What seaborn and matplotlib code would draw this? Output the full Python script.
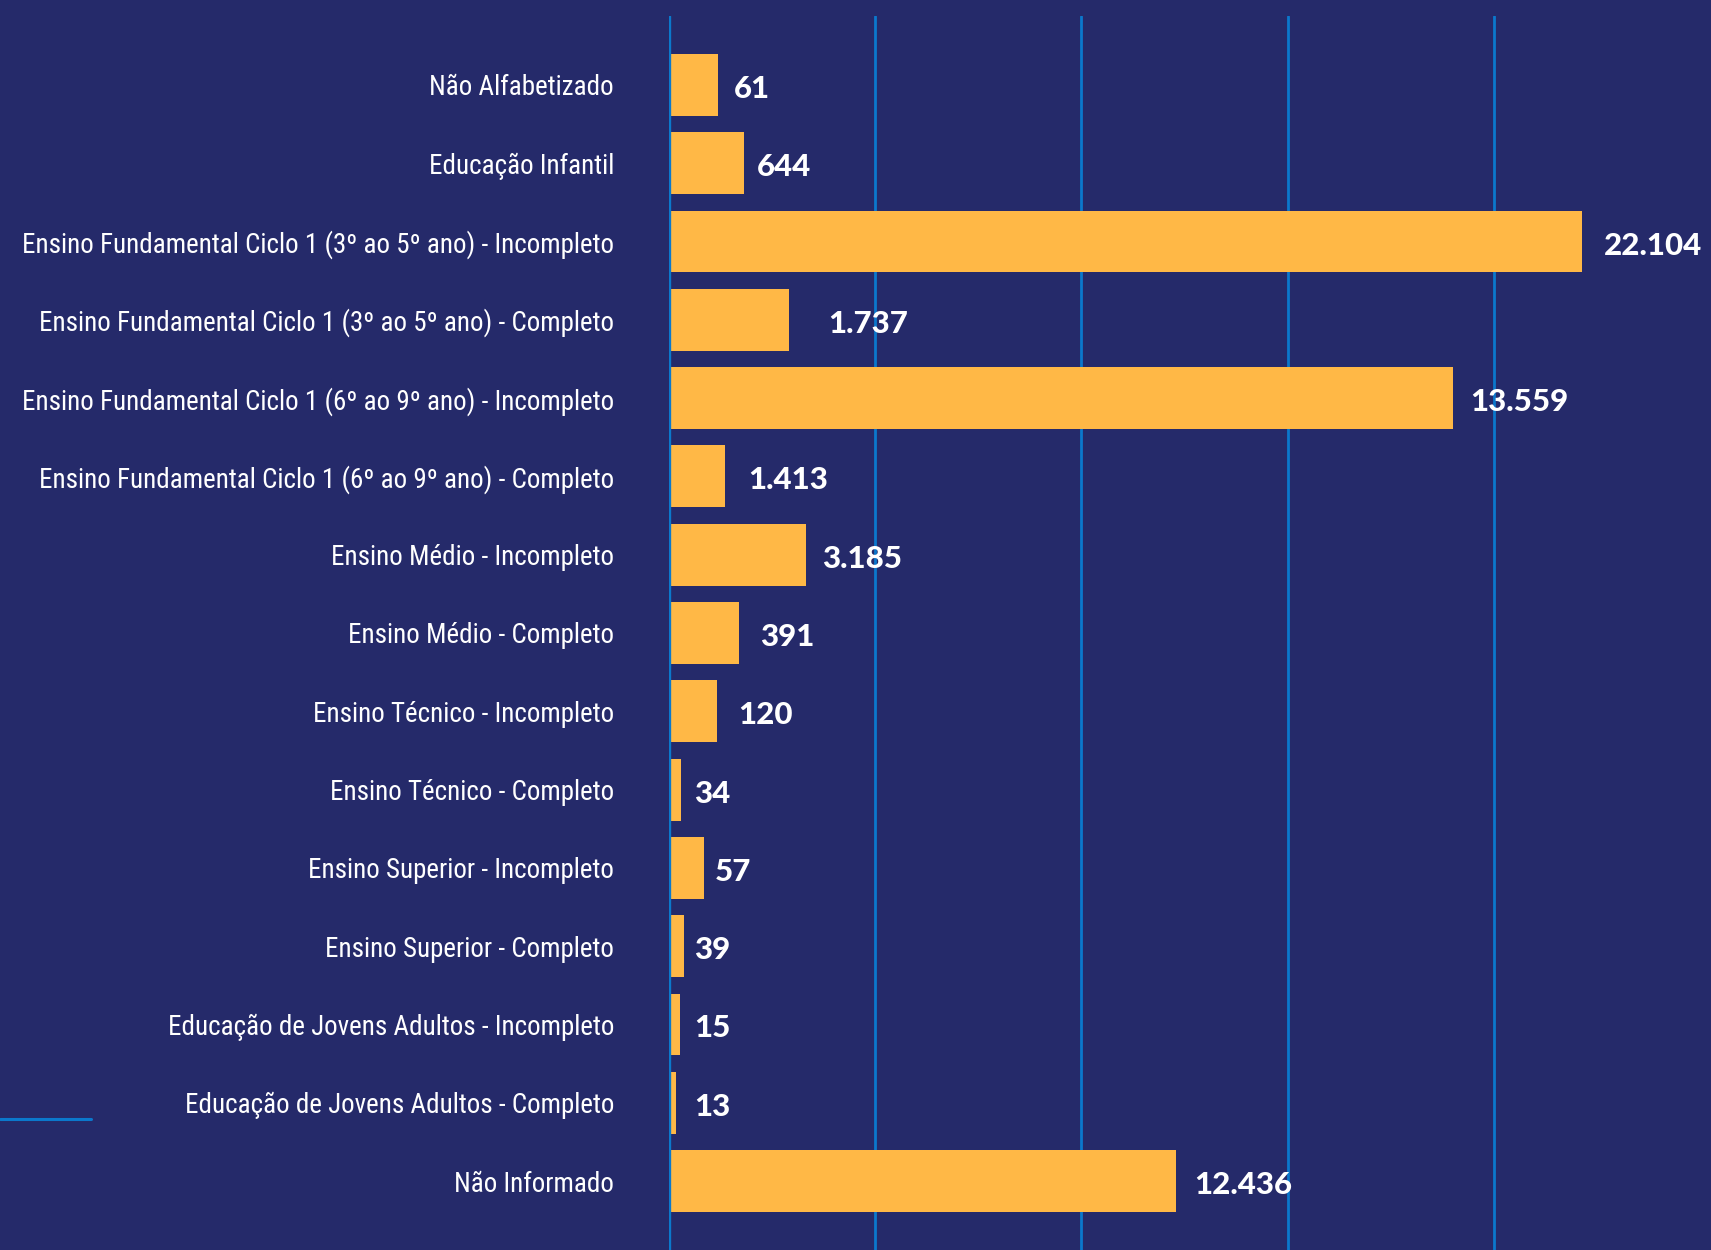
import os
import numpy as np
import pandas as pd
import seaborn as sns
import matplotlib
matplotlib.use("Agg")
import matplotlib.pyplot as plt
from matplotlib import font_manager as fm
from matplotlib.lines import Line2D

# ---------------- data ----------------
categories = [
    "Não Alfabetizado",
    "Educação Infantil",
    "Ensino Fundamental Ciclo 1 (3º ao 5º ano) - Incompleto",
    "Ensino Fundamental Ciclo 1 (3º ao 5º ano) - Completo",
    "Ensino Fundamental Ciclo 1 (6º ao 9º ano) - Incompleto",
    "Ensino Fundamental Ciclo 1 (6º ao 9º ano) - Completo",
    "Ensino Médio - Incompleto",
    "Ensino Médio - Completo",
    "Ensino Técnico - Incompleto",
    "Ensino Técnico - Completo",
    "Ensino Superior - Incompleto",
    "Ensino Superior - Completo",
    "Educação de Jovens Adultos - Incompleto",
    "Educação de Jovens Adultos - Completo",
    "Não Informado",
]
value_labels = ["61", "644", "22.104", "1.737", "13.559", "1.413", "3.185",
                "391", "120", "34", "57", "39", "15", "13", "12.436"]
# drawn bar lengths (gridlines every 5.000)
bar_lengths = [1200, 1820, 22150, 2910, 19020, 1350, 3330,
               1700, 1160, 290, 850, 370, 270, 170, 12300]
grid_ticks = [0, 5000, 10000, 15000, 20000]

# ---------------- style ----------------
BG = "#252a6a"
BAR = "#ffb846"
GRID = "#0b78cc"
W, H, DPI = 1711, 1250, 100
label_pad_px = [15, 13, 21, 39, 17, 24, 16, 21, 21, 13, 11, 10, 14, 18, 18]

sns.set_style("dark")
plt.rcParams["font.family"] = ["Lato", "DejaVu Sans"]

# condensed font for category labels
cond_path = None
prefs = ["liberationsansnarrow-regular", "robotocondensed-regular",
         "notosans-condensed.", "notosans-extracondensed.",
         "dejavusanscondensed.", "opensans_condensed-regular",
         "opensans-condensedregular"]
paths = [f.fname for f in fm.fontManager.ttflist]
for p in prefs:
    for fp_ in paths:
        if p in os.path.basename(fp_).lower():
            cond_path = fp_
            break
    if cond_path:
        break
if cond_path is None:
    for fp_ in paths:
        b = os.path.basename(fp_).lower()
        if ("narrow" in b or "condensed" in b) and not any(
                k in b for k in ["bold", "italic", "oblique", "light", "thin",
                                 "medium", "black", "semi", "extralight"]):
            cond_path = fp_
            break

fig = plt.figure(figsize=(W / DPI, H / DPI), dpi=DPI, facecolor=BG)
ax_left = 669 / W
ax = fig.add_axes([ax_left, 0, 1 - ax_left, 1 - 16 / H])
ax.set_facecolor(BG)

df = pd.DataFrame({"categoria": categories, "valor": bar_lengths})
sns.barplot(data=df, x="valor", y="categoria", orient="h", color=BAR,
            saturation=1, width=0.79, linewidth=0, ax=ax, zorder=3)

px_per_unit = 206.2 / 5000
ax.set_xlim(0, (W - 669) / px_per_unit)
ax.set_ylim(14.88, -0.88)
ax.set_xticks(grid_ticks)
ax.tick_params(axis="x", length=0, labelbottom=False)
ax.grid(axis="x", color=GRID, linewidth=2.0, zorder=0)
ax.grid(axis="y", visible=False)
ax.axvline(0, color=GRID, linewidth=2.4, zorder=4)
for s in ax.spines.values():
    s.set_visible(False)
ax.set_xlabel("")
ax.set_ylabel("")
ax.tick_params(axis="y", length=0, pad=55 * 0.72)

if cond_path:
    cat_fp = fm.FontProperties(fname=cond_path, size=22)
else:
    cat_fp = fm.FontProperties(family="Roboto", size=22)
for t in ax.get_yticklabels():
    t.set_fontproperties(cat_fp)
    t.set_color("white")

# fit longest label to ~591 px wide
fig.canvas.draw()
r = fig.canvas.get_renderer()
maxw = max(t.get_window_extent(r).width for t in ax.get_yticklabels())
if maxw > 591:
    newsize = 22 * 591 / maxw
    for t in ax.get_yticklabels():
        t.set_fontsize(newsize)

for i, (L, lab, pad) in enumerate(zip(bar_lengths, value_labels, label_pad_px)):
    ax.annotate(lab, xy=(L, i), xytext=(pad * 0.72, -4 * 0.72),
                textcoords="offset points", va="center", ha="left",
                color="white", fontsize=22.5, fontfamily="Lato",
                fontweight="black", zorder=5)

fig.add_artist(Line2D([0, 91 / W], [1 - 1119 / H, 1 - 1119 / H],
                      color=GRID, linewidth=2.2))

fig.savefig("out.png", dpi=DPI, facecolor=BG)
